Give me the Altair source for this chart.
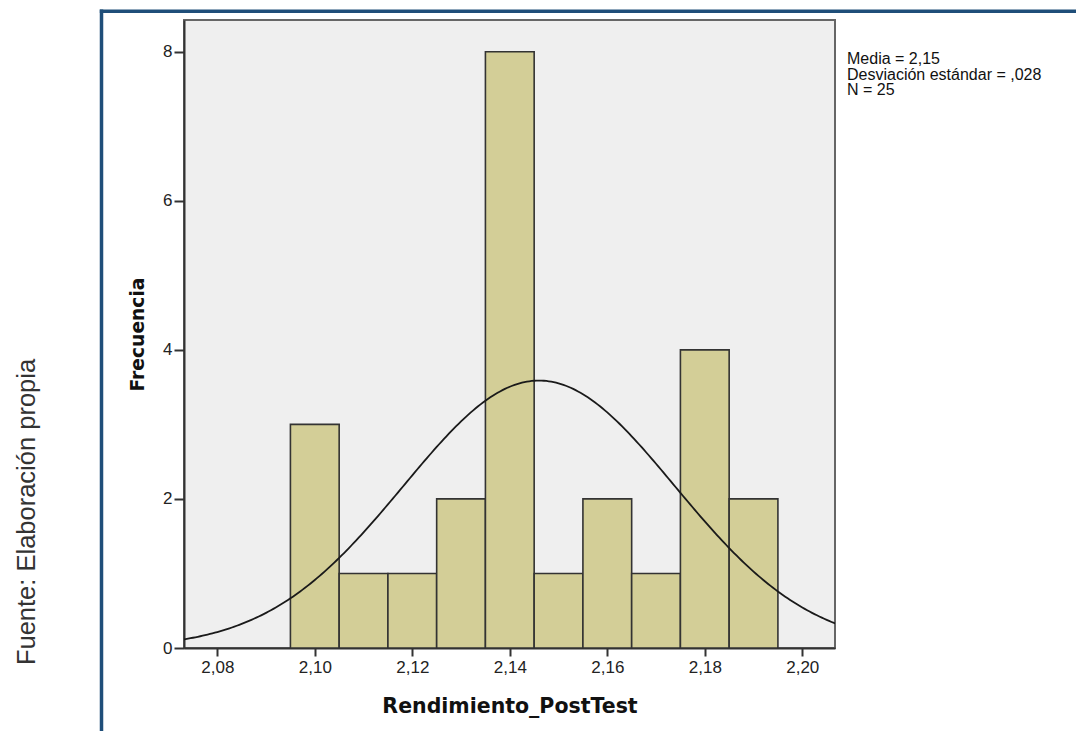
import altair as alt
import pandas as pd

# Histogram bins (width 0.01) and their frequencies
bin_start = [2.095, 2.105, 2.115, 2.125, 2.135, 2.145, 2.155, 2.165, 2.175, 2.185]
bin_width = 0.01
counts = [3, 1, 1, 2, 8, 1, 2, 1, 4, 2]

# Summary statistics for the fitted normal curve
mean_val = 2.146
sd_val = 0.0278
n_total = 25

x_ticks = [2.08, 2.10, 2.12, 2.14, 2.16, 2.18, 2.20]
y_ticks = [0, 2, 4, 6, 8]
x_domain = [2.07317, 2.20671]
y_domain = [0, 8.425]

stats_lines = ["Media = 2,15", "Desviación estándar = ,028", "N = 25"]
source_note = "Fuente: Elaboración propia"
x_title = "Rendimiento_PostTest"
y_title = "Frecuencia"

W, H = 651, 628
PAD_L, PAD_T = 184, 20
FRAME_BLUE = "#1f4e79"

bars_df = pd.DataFrame({
    "start": bin_start,
    "end": [s + bin_width for s in bin_start],
    "count": counts,
})

x_scale = alt.Scale(domain=x_domain, nice=False, zero=False)
y_scale = alt.Scale(domain=y_domain, nice=False)

comma_fmt = "replace(format(datum.value, '.2f'), '.', ',')"

bars = alt.Chart(bars_df).mark_rect(
    fill="#d3ce97", stroke="#333333", strokeWidth=1.6
).encode(
    x=alt.X("start:Q", scale=x_scale, axis=alt.Axis(
        values=x_ticks, labelExpr=comma_fmt, title=x_title,
        titleY=64, titleBaseline="alphabetic", tickSize=8, labelPadding=3,
    )),
    x2="end:Q",
    y=alt.Y("count:Q", scale=y_scale, axis=alt.Axis(
        values=y_ticks, format="d", title=y_title,
        titleX=-41, titleBaseline="alphabetic", tickSize=10, labelPadding=2,
    )),
    y2=alt.datum(0),
)

curve = alt.Chart(alt.sequence(2.070, 2.210, 0.0005, as_="x")).transform_calculate(
    y=f"{n_total}*{bin_width}/({sd_val}*sqrt(2*PI))*exp(-0.5*pow((datum.x-{mean_val})/{sd_val},2))"
).mark_line(color="#1a1a1a", strokeWidth=1.8, clip=True).encode(
    x=alt.X("x:Q", scale=x_scale),
    y=alt.Y("y:Q", scale=y_scale),
)

one_row = alt.Data(values=[{"k": 0}])

frame_left = alt.Chart(one_row).mark_rule(color=FRAME_BLUE, strokeWidth=3.5).encode(
    x=alt.value(101.5 - PAD_L), y=alt.value(9.5 - PAD_T), y2=alt.value(731 - PAD_T)
)
frame_top = alt.Chart(one_row).mark_rule(color=FRAME_BLUE, strokeWidth=3.5).encode(
    x=alt.value(99.8 - PAD_L), x2=alt.value(1076 - PAD_L), y=alt.value(11.3 - PAD_T)
)

stats_text = alt.Chart(one_row).mark_text(
    align="left", baseline="alphabetic", font="Liberation Sans", fontSize=16,
    lineHeight=15.5, color="#111111",
).encode(
    x=alt.value(847 - PAD_L), y=alt.value(64 - PAD_T), text=alt.value(stats_lines)
)

note_text = alt.Chart(one_row).mark_text(
    align="center", baseline="alphabetic", angle=270,
    font="Liberation Sans", fontSize=25.5, color="#333333",
).encode(
    x=alt.value(35 - PAD_L), y=alt.value(512 - PAD_T), text=alt.value(source_note)
)

chart = alt.layer(
    bars, curve, frame_left, frame_top, stats_text, note_text
).properties(
    width=W, height=H,
    padding={"left": PAD_L, "top": PAD_T, "right": 1076 - PAD_L - W, "bottom": 731 - PAD_T - H},
    autosize=alt.AutoSizeParams(type="none"),
    background="white",
).configure_view(
    fill="#efefef", stroke="#666666", strokeWidth=2,
).configure_axis(
    grid=False,
    domainColor="#333333", domainWidth=2,
    tickColor="#333333", tickWidth=2,
    labelFont="Liberation Sans", labelFontSize=17, labelColor="#222222",
    titleFont="DejaVu Sans", titleFontWeight="bold", titleColor="#111111",
).configure_axisX(titleFontSize=20.5).configure_axisY(titleFontSize=18.7)

chart.save("out.html", embed_options={"renderer": "svg", "actions": False})
